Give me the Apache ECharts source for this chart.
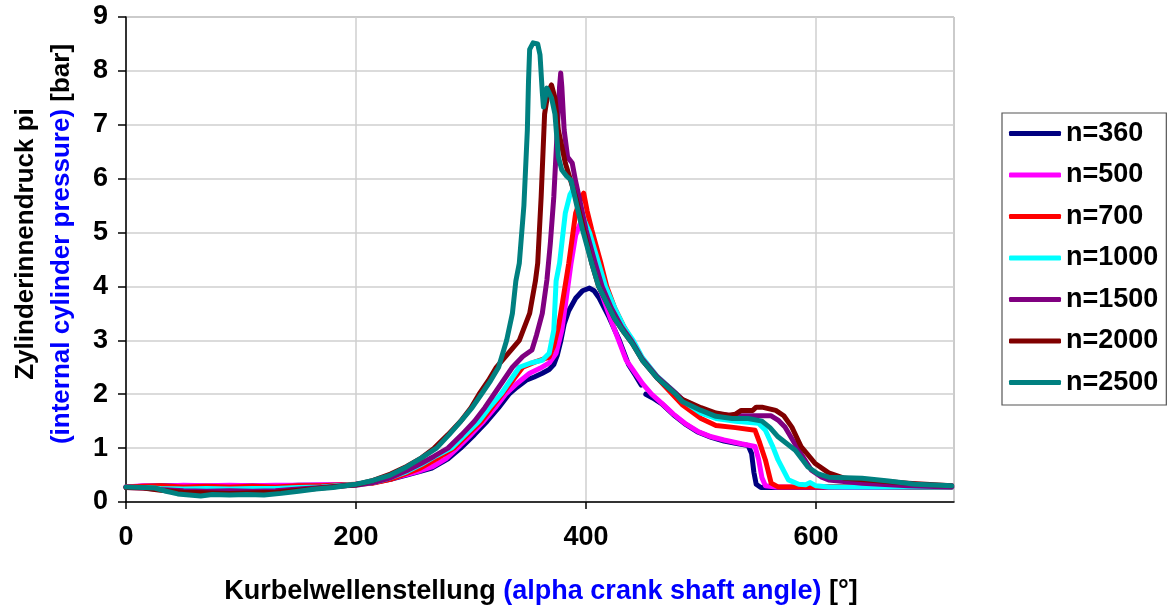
<!DOCTYPE html>
<html>
<head>
<meta charset="utf-8">
<script src="https://cdn.jsdelivr.net/npm/echarts@6/dist/echarts.min.js"></script>
<style>
html,body{margin:0;padding:0;background:#fff;}
#c{width:1168px;height:612px;}
</style>
</head>
<body>
<div id="c"></div>
<script>
// ---- data (crank angle [deg], pressure [bar]) ----
var seriesNames = ['n=360','n=500','n=700','n=1000','n=1500','n=2000','n=2500'];
var xTicks = [0,200,400,600];
var yTicks = [0,1,2,3,4,5,6,7,8,9];

var n360 = [[0,0.28],[15,0.29],[30,0.3],[50,0.3],[70,0.29],[90,0.3],[110,0.3],[130,0.29],[150,0.31],[170,0.31],[190,0.32],[200,0.33],
[215,0.36],[230,0.42],[244,0.5],[256,0.57],[266,0.63],[280,0.8],[291,1.0],[303,1.25],[314,1.5],[324,1.75],[333,2.0],[340,2.13],[348,2.26],[355,2.32],[362,2.39],[368,2.46],[372,2.55],[375,2.72],[378,2.98],[381,3.3],[385,3.55],[391,3.78],[397,3.92],[403,3.97],[407,3.92],[411,3.8],[420,3.43],[429,3.0],[437,2.55],[443,2.35],[448,2.17],[450,'-'],
[452,2.0],[458,1.93],[466,1.82],[476,1.62],[486,1.45],[497,1.3],[509,1.2],[520,1.13],[530,1.09],[541,1.05],[544,0.9],[546,0.55],[548,0.33],[552,0.27],[570,0.27],[600,0.27],[640,0.28],[680,0.27],[718,0.28]];

var n500 = [[0,0.28],[15,0.3],[30,0.29],[50,0.31],[70,0.3],[90,0.31],[110,0.3],[130,0.31],[150,0.31],[170,0.32],[190,0.32],[200,0.33],
[215,0.36],[230,0.43],[244,0.51],[256,0.58],[266,0.65],[278,0.8],[288,1.0],[300,1.25],[311,1.5],[321,1.75],[330,2.0],[340,2.2],[351,2.39],[360,2.48],[368,2.58],[374,2.76],[379,3.19],[383,3.8],[387,4.43],[391,4.95],[395,5.17],[398,5.05],[401,4.85],[405,4.5],[413,3.9],[423,3.3],[435,2.63],[449,2.2],[457,2.0],[466,1.83],[476,1.63],[486,1.46],[498,1.3],[509,1.21],[520,1.15],[535,1.08],[547,1.03],[550,0.8],[553,0.45],[556,0.3],[565,0.28],[600,0.28],[640,0.28],[680,0.28],[718,0.3]];

var n700 = [[0,0.28],[15,0.29],[30,0.3],[50,0.28],[70,0.29],[90,0.28],[110,0.29],[130,0.28],[150,0.3],[170,0.3],[190,0.32],[200,0.33],
[215,0.35],[230,0.42],[244,0.53],[256,0.63],[270,0.8],[285,1.0],[297,1.25],[309,1.5],[318,1.75],[327,2.0],[336,2.25],[345,2.5],[356,2.6],[368,2.69],[372,2.9],[376,3.25],[378,3.5],[385,4.43],[391,5.36],[395,5.6],[398,5.73],[401,5.4],[405,5.05],[413,4.43],[418,4.0],[425,3.6],[433,3.25],[441,2.95],[449,2.65],[462,2.3],[476,1.98],[484,1.8],[500,1.55],[513,1.42],[530,1.38],[547,1.33],[551,1.1],[556,0.78],[561,0.35],[567,0.28],[600,0.28],[640,0.29],[680,0.28],[718,0.28]];

var n1000 = [[0,0.27],[15,0.27],[30,0.25],[50,0.24],[70,0.25],[90,0.24],[110,0.25],[130,0.25],[150,0.27],[170,0.28],[190,0.31],[200,0.32],
[215,0.36],[230,0.45],[244,0.56],[257,0.7],[270,0.86],[283,1.0],[295,1.25],[307,1.5],[316,1.75],[326,2.0],[334,2.25],[342,2.5],[352,2.58],[362,2.63],[368,2.76],[372,3.19],[374,4.1],[377,4.43],[382,5.36],[386,5.7],[390,5.85],[394,5.6],[398,5.25],[403,5.0],[410,4.5],[417,4.0],[425,3.6],[433,3.25],[441,3.0],[449,2.68],[462,2.33],[478,2.02],[484,1.88],[500,1.65],[513,1.55],[530,1.5],[550,1.46],[556,1.33],[562,1.05],[567,0.78],[576,0.41],[585,0.33],[591,0.32],[595,0.36],[600,0.3],[611,0.28],[640,0.28],[680,0.28],[718,0.28]];

var n1500 = [[0,0.27],[15,0.26],[30,0.23],[50,0.21],[70,0.2],[90,0.21],[110,0.2],[130,0.21],[150,0.24],[170,0.27],[190,0.3],[200,0.31],
[215,0.36],[230,0.45],[244,0.58],[257,0.72],[268,0.85],[280,1.0],[292,1.25],[303,1.5],[312,1.75],[320,2.0],[328,2.25],[336,2.5],[345,2.7],[353,2.82],[357,3.1],[362,3.5],[366,4.12],[369,4.8],[372,5.66],[375,6.9],[377,7.7],[378,7.96],[379,7.7],[381,6.9],[384,6.4],[388,6.29],[391,5.95],[394,5.66],[400,5.05],[408,4.43],[414,4.0],[422,3.6],[431,3.25],[440,2.98],[449,2.65],[462,2.32],[478,2.02],[484,1.9],[500,1.72],[513,1.64],[527,1.6],[545,1.6],[561,1.6],[567,1.52],[573,1.39],[585,0.96],[596,0.59],[605,0.46],[611,0.41],[640,0.35],[680,0.3],[718,0.28]];

var n2000 = [[0,0.27],[15,0.26],[30,0.22],[50,0.18],[70,0.17],[90,0.16],[110,0.17],[130,0.18],[150,0.22],[170,0.26],[190,0.3],[200,0.32],
[215,0.4],[230,0.52],[244,0.66],[257,0.82],[268,1.0],[280,1.25],[291,1.5],[300,1.75],[307,2.0],[315,2.25],[322,2.5],[332,2.75],[342,3.0],[351,3.5],[356,4.1],[358,4.43],[361,5.66],[364,7.2],[367,7.6],[370,7.74],[373,7.5],[376,6.9],[382,6.29],[391,5.66],[398,5.05],[405,4.43],[411,4.0],[418,3.7],[425,3.4],[433,3.15],[440,2.95],[449,2.63],[462,2.3],[478,2.0],[484,1.9],[500,1.75],[513,1.65],[524,1.61],[530,1.63],[535,1.7],[545,1.7],[548,1.76],[553,1.76],[565,1.7],[572,1.6],[579,1.39],[587,1.03],[599,0.72],[611,0.54],[625,0.44],[650,0.4],[680,0.35],[718,0.3]];

var n2500 = [[0,0.28],[15,0.27],[25,0.26],[35,0.2],[45,0.15],[55,0.13],[65,0.11],[75,0.14],[90,0.13],[105,0.14],[120,0.13],[135,0.16],[150,0.2],[165,0.24],[180,0.27],[200,0.33],
[215,0.4],[230,0.5],[244,0.65],[257,0.82],[270,1.0],[281,1.25],[292,1.52],[301,1.75],[309,2.0],[317,2.25],[324,2.5],[331,3.0],[336,3.5],[339,4.1],[342,4.43],[346,5.5],[349,6.9],[350,7.8],[351,8.4],[354,8.52],[358,8.5],[360,8.3],[362,7.6],[363,7.33],[366,7.68],[370,7.5],[373,7.2],[376,6.4],[379,6.16],[383,6.05],[387,5.97],[392,5.5],[397,5.05],[405,4.43],[411,4.0],[418,3.7],[425,3.4],[433,3.15],[440,2.95],[449,2.63],[462,2.3],[478,2.0],[484,1.86],[500,1.7],[513,1.59],[527,1.55],[541,1.55],[553,1.5],[560,1.38],[567,1.21],[582,0.96],[593,0.65],[602,0.52],[611,0.46],[640,0.44],[663,0.39],[686,0.33],[718,0.3]];

var seriesData = [n360, n500, n700, n1000, n1500, n2000, n2500];
var seriesColors = ['#000080','#FF00FF','#FF0000','#00FFFF','#800080','#800000','#008080'];

var FONT = '"Liberation Sans", Arial, sans-serif';
var chart = echarts.init(document.getElementById('c'), null, {renderer:'canvas'});

var series = seriesNames.map(function(name, i){
  return {
    name: name, type: 'line', data: seriesData[i], symbol: 'none', showSymbol: false,
    smooth: false, connectNulls: false, animation: false,
    lineStyle: {color: seriesColors[i], width: 5, cap: 'round', join: 'round'},
    itemStyle: {color: seriesColors[i]}
  };
});

chart.setOption({
  backgroundColor: '#fff',
  animation: false,
  grid: {left: 126, right: 214, top: 17, bottom: 110, show: true, borderColor: '#808080', borderWidth: 1, backgroundColor: 'transparent'},
  xAxis: {
    type: 'value', min: 0, max: 720, interval: 200,
    axisLine: {show: true, onZero: false, lineStyle: {color: '#000', width: 1.5}},
    axisTick: {show: true, length: 7, lineStyle: {color: '#000', width: 1.5}},
    axisLabel: {showMaxLabel: false, margin: 22, color: '#000', fontFamily: FONT, fontWeight: 'bold', fontSize: 27},
    splitLine: {show: true, lineStyle: {color: '#cfcfcf', width: 1.5}}
  },
  yAxis: {
    type: 'value', min: 0, max: 9, interval: 1,
    axisLine: {show: true, onZero: false, lineStyle: {color: '#000', width: 1.5}},
    axisTick: {show: true, length: 8, lineStyle: {color: '#000', width: 1.5}},
    axisLabel: {margin: 18, color: '#000', fontFamily: FONT, fontWeight: 'bold', fontSize: 27},
    splitLine: {show: true, lineStyle: {color: '#cfcfcf', width: 1.5}}
  },
  legend: {
    show: true, orient: 'vertical', left: 1002, top: 113,
    data: seriesNames,
    itemWidth: 52, itemHeight: 5, itemGap: 14.5,
    padding: [7, 8, 9, 7],
    borderColor: '#555', borderWidth: 1.2, backgroundColor: '#fff',
    textStyle: {color: '#000', fontFamily: FONT, fontWeight: 'bold', fontSize: 27},
    icon: 'roundRect'
  },
  graphic: [
    {type: 'text', x: 26, y: 244, rotation: Math.PI/2, style: {
      text: 'Zylinderinnendruck pi', fill: '#000', font: 'bold 26px ' + FONT, align: 'center', verticalAlign: 'middle'}},
    {type: 'text', x: 62, y: 244, rotation: Math.PI/2, style: {
      text: '{b|(internal cylinder pressure)}{k| [bar]}', align: 'center', verticalAlign: 'middle',
      rich: {b: {fill: '#0000FF', font: 'bold 26px ' + FONT}, k: {fill: '#000', font: 'bold 26px ' + FONT}}}},
    {type: 'text', x: 541, y: 592, style: {
      text: '{k|Kurbelwellenstellung }{b|(alpha crank shaft angle)}{k| [°]}', align: 'center', verticalAlign: 'middle',
      rich: {b: {fill: '#0000FF', font: 'bold 27px ' + FONT}, k: {fill: '#000', font: 'bold 27px ' + FONT}}}}
  ],
  series: series
});
</script>
</body>
</html>
